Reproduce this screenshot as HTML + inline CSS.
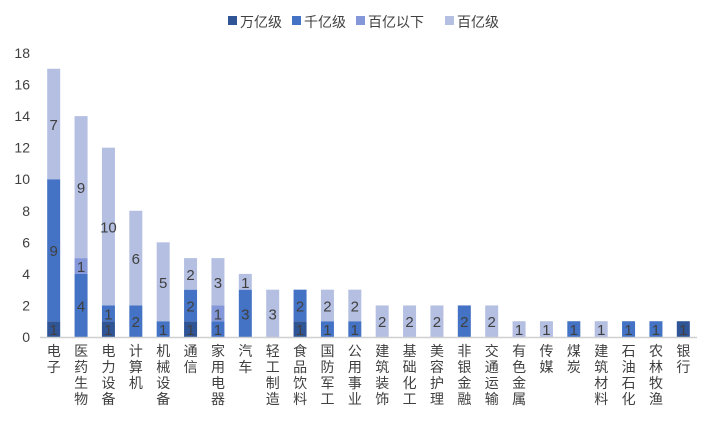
<!DOCTYPE html>
<html><head><meta charset="utf-8"><style>
body{margin:0;background:#fff;}
svg text{font-family:"Liberation Sans","Noto Sans CJK SC",sans-serif;fill:#404040;}
</style></head><body>
<svg id="chart" width="720" height="420"></svg>
<script>
const categories=["电子","医药生物","电力设备","计算机","机械设备","通信","家用电器","汽车","轻工制造","食品饮料","国防军工","公用事业","建筑装饰","基础化工","美容护理","非银金融","交通运输","有色金属","传媒","煤炭","建筑材料","石油石化","农林牧渔","银行"];
const seriesNames=["万亿级","千亿级","百亿以下","百亿级"];
const wanyi=[1,0,1,0,0,1,0,0,0,1,0,0,0,0,0,0,0,0,0,0,0,0,0,1];
const qianyi=[9,4,1,2,1,2,1,3,0,2,1,1,0,0,0,2,0,0,0,1,0,1,1,0];
const baiyiBelow=[0,1,0,0,0,0,1,0,0,0,0,0,0,0,0,0,0,0,0,0,0,0,0,0];
const baiyi=[7,9,10,6,5,2,3,1,3,0,2,2,2,2,2,0,2,1,1,0,1,0,0,0];
const yTicks=[0,2,4,6,8,10,12,14,16,18];
const colors=["#2f5597","#4472c4","#8497d8","#b4bfe2"];
const svg=document.getElementById('chart');
const NS="http://www.w3.org/2000/svg";
const x0=40,x1=697,yBase=337,yTop=53,yMax=18;
const band=(x1-x0)/categories.length,bw=13;
function y(v){return yBase-(v/yMax)*(yBase-yTop);}
function xc(i){return x0+band*(i+0.5);}
function mk(t,a){const e=document.createElementNS(NS,t);for(const k in a)e.setAttribute(k,a[k]);svg.appendChild(e);return e;}
yTicks.forEach(t=>{const e=mk('text',{x:30,y:y(t)+5,'text-anchor':'end','font-size':14});e.textContent=t;

});
const series=[wanyi,qianyi,baiyiBelow,baiyi];
categories.forEach((c,i)=>{let acc=0;
series.forEach((s,k)=>{const v=s[i];if(!v)return;
const r=mk('rect',{x:xc(i)-bw/2,y:y(acc+v),width:bw,height:y(acc)-y(acc+v),fill:colors[k]});


const t=mk('text',{x:xc(i),y:(y(acc)+y(acc+v))/2+6,'text-anchor':'middle','font-size':15});t.textContent=v;


acc+=v;});
const lab=mk('text',{x:xc(i),'text-anchor':'middle','font-size':14});


[...c].forEach((ch,j)=>{const ts=document.createElementNS(NS,'tspan');ts.setAttribute('x',xc(i));ts.setAttribute('y',356+j*16);ts.textContent=ch;lab.appendChild(ts);});
});
const ax=mk('line',{x1:x0,x2:x1,y1:yBase+0.5,y2:yBase+0.5,stroke:'#d0d0d0','stroke-width':1.5});


const lx=[228,292,356,445];
seriesNames.forEach((n,k)=>{
const r=mk('rect',{x:lx[k],y:16,width:9,height:9,fill:colors[k]});


const t=mk('text',{x:lx[k]+12,y:27,'font-size':14});t.textContent=n;

});
</script>
</body></html>
